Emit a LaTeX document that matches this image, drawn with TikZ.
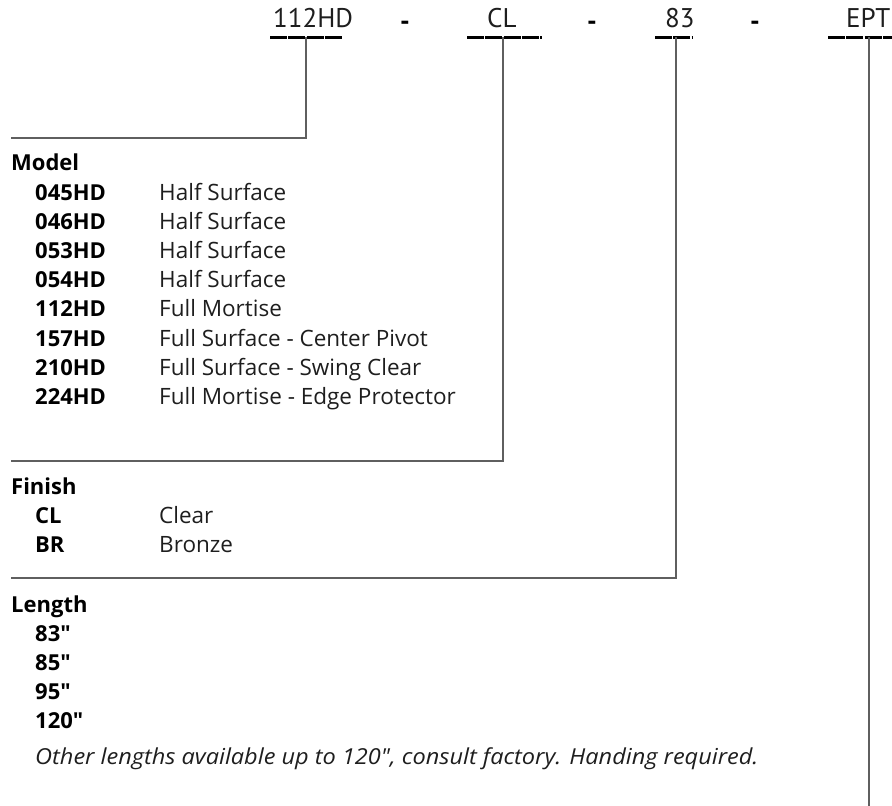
\documentclass[tikz,border=0pt]{standalone}
\usepackage{fontspec}
\setmainfont{Open Sans}[Ligatures=TeXOff]
\newfontfamily\codefont{PT Sans}[Ligatures=TeXOff]
\newfontfamily\notefont{Open Sans Italic}[Ligatures=TeXOff, FakeStretch=1.07]
\usetikzlibrary{positioning,calc}
\definecolor{mInk}{RGB}{30,30,30}
\definecolor{mLead}{RGB}{95,95,95}
\tikzset{
  codetxt/.style={anchor=base west, inner sep=0pt, text=mInk,
    font=\codefont\fontsize{27}{30}\selectfont},
  sepdash/.style={anchor=base, inner sep=0pt, font=\codefont\fontsize{27}{30}\selectfont\bfseries},
  underln/.style={line width=3pt, black, dash pattern=on 17pt off 1.3pt},
  leadln/.style={line width=1.4pt, mLead},
  headtxt/.style={anchor=base west, inner sep=0pt, font=\fontsize{22}{26}\selectfont\bfseries},
  keytxt/.style={anchor=base west, inner sep=0pt, font=\fontsize{22}{26}\selectfont\bfseries},
  desctxt/.style={anchor=base west, inner sep=0pt, text=mInk, font=\fontsize{22.5}{26}\selectfont},
  notetxt/.style={anchor=base west, inner sep=0pt, text=mInk, font=\notefont\fontsize{22}{26}\selectfont},
}

\begin{document}
\begin{tikzpicture}[x=1pt, y=-1pt]
  \useasboundingbox (0,0) rectangle (892,806);
  % --- part number ---
  \node[codetxt] (code1) at (273,27) {112HD};
  \node[codetxt] (code2) at (487,27) {CL};
  \node[codetxt] (code3) at (665,27) {83};
  \node[codetxt] (code4) at (846,27) {EPT};
  \node[sepdash] (sep1) at (405,30) {-};
  \node[sepdash] (sep2) at (592,30) {-};
  \node[sepdash] (sep3) at (755,30) {-};
  % underlines
  \draw[underln] (270,37) -- (343,37);
  \draw[underln] (467,37) -- (542,37);
  \draw[underln] (655,37) -- (692,37);
  \draw[underln] (828,37) -- (901,37);
  % leader lines to the tables
  \coordinate (ul1) at (306,37);
  \coordinate (ul2) at (503,37);
  \coordinate (ul3) at (676,37);
  \coordinate (ul4) at (869,37);
  \coordinate (lead1) at (11,138);
  \coordinate (lead2) at (11,461);
  \coordinate (lead3) at (11,578);
  \coordinate (lead4) at (869,806);
  \draw[leadln] (ul1) |- (lead1);
  \draw[leadln] (ul2) |- (lead2);
  \draw[leadln] (ul3) |- (lead3);
  \draw[leadln] (ul4) -- (lead4);
  % --- model table ---
  \node[headtxt] (model) at (11,170) {Model};
  \foreach \key/\desc [count=\i from 0] in {045HD/Half Surface, 046HD/Half Surface,
      053HD/Half Surface, 054HD/Half Surface, 112HD/Full Mortise,
      157HD/Full Surface - Center Pivot, 210HD/Full Surface - Swing Clear,
      224HD/Full Mortise - Edge Protector} {
    \node[keytxt] (mkey\i) at (35,200+29.2*\i) {\key};
    \node[desctxt] (mdesc\i) at (159,200+29.2*\i) {\desc};
  }
  % --- finish table ---
  \node[headtxt] (finish) at (11,494) {Finish};
  \node[keytxt] (fkey0) at (35,523) {CL};
  \node[desctxt] (fdesc0) at (159,523) {Clear};
  \node[keytxt] (fkey1) at (35,552) {BR};
  \node[desctxt] (fdesc1) at (159,552) {Bronze};
  % --- length table ---
  \node[headtxt] (length) at (11,612) {Length};
  \foreach \key [count=\i from 0] in {83", 85", 95", 120"} {
    \node[keytxt] (lkey\i) at (35,641+29*\i) {\key};
  }
  \node[notetxt] (note) at (35,764) {Other lengths available up to 120", consult factory. Handing required.};
\end{tikzpicture}
\end{document}
